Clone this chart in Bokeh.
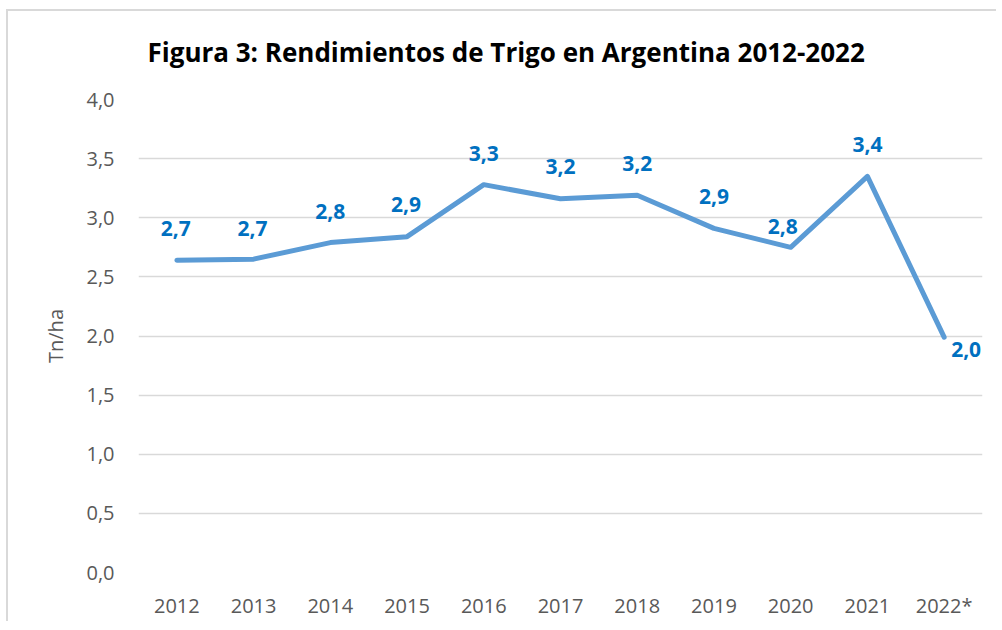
from bokeh.plotting import figure
from bokeh.models import ColumnDataSource, LabelSet, Range1d, FactorRange, FixedTicker, Title
from bokeh.core.properties import value
from bokeh.embed import file_html
from bokeh.resources import INLINE

# ---- data ----
years = ["2012", "2013", "2014", "2015", "2016", "2017", "2018", "2019", "2020", "2021", "2022*"]
yields = [2.64, 2.65, 2.79, 2.84, 3.28, 3.16, 3.19, 2.91, 2.75, 3.35, 1.99]
value_labels = ["2,7", "2,7", "2,8", "2,9", "3,3", "3,2", "3,2", "2,9", "2,8", "3,4", "2,0"]
y_ticks = [0.0, 0.5, 1.0, 1.5, 2.0, 2.5, 3.0, 3.5, 4.0]
y_tick_labels = ["0,0", "0,5", "1,0", "1,5", "2,0", "2,5", "3,0", "3,5", "4,0"]
title_text = "Figura 3: Rendimientos de Trigo en Argentina 2012-2022"
y_title = "Tn/ha"

# label placement (screen px offsets, style only)
label_dx = [-1, -1, 0, -1, 0, 0, 0, 0, -8, 0, 22]
label_dy = [32, 31, 31, 32, 31, 32, 32, 32, 21, 32, -12]

LINE = "#5B9BD5"
LBL = "#0070C0"
GRAY = "#595959"
GRID = "#D9D9D9"

src = ColumnDataSource(dict(x=years, y=yields, txt=value_labels, dx=label_dx, dy=label_dy))

p = figure(
    frame_width=844, frame_height=473,
    x_range=FactorRange(factors=years, range_padding=0),
    y_range=Range1d(0, 4),
    output_backend="svg", toolbar_location=None,
    min_border_left=130, min_border_right=14, min_border_top=88, min_border_bottom=46,
    title_location=None,
)
p.title = None
p.styles = {"border-left": "2px solid #D9D9D9", "border-top": "2px solid #D9D9D9",
            "margin-left": "6px", "margin-top": "9px"}
p.outline_line_color = None
p.background_fill_color = "white"
p.border_fill_color = "white"

# spacer (closest to frame) then the real title above it
spacer = Title(text=" ", text_font_size="1px", standoff=27)
main_title = Title(text=title_text, align="left", offset=9, standoff=0,
                   text_font="Open Sans", text_font_style="bold",
                   text_font_size="26px", text_color="black")
p.add_layout(spacer, "above")
p.add_layout(main_title, "above")

p.xgrid.grid_line_color = None
p.ygrid.grid_line_color = GRID
p.ygrid.grid_line_width = 1.5

p.yaxis.ticker = FixedTicker(ticks=y_ticks)
p.yaxis.major_label_overrides = {t: l for t, l in zip(y_ticks, y_tick_labels)}
for ax in (p.xaxis, p.yaxis):
    ax.axis_line_color = None
    ax.major_tick_line_color = None
    ax.minor_tick_line_color = None
    ax.major_label_text_color = GRAY
    ax.major_label_text_font = "Open Sans"
    ax.major_label_text_font_size = "20px"
p.yaxis.major_label_standoff = 18
p.xaxis.major_label_standoff = 13

p.yaxis.axis_label = y_title
p.yaxis.axis_label_text_font = "Open Sans"
p.yaxis.axis_label_text_font_size = "20px"
p.yaxis.axis_label_text_font_style = "normal"
p.yaxis.axis_label_text_color = GRAY
p.yaxis.axis_label_standoff = 14

p.line("x", "y", source=src, line_color=LINE, line_width=5, line_join="round", line_cap="round")

labels = LabelSet(x="x", y="y", text="txt", x_offset="dx", y_offset="dy", source=src,
                  text_align="center", text_baseline="middle",
                  text_color=LBL, text_font=value("Open Sans"), text_font_style="bold",
                  text_font_size="21px")
p.add_layout(labels)

open("out.html", "w").write(file_html(p, INLINE))
